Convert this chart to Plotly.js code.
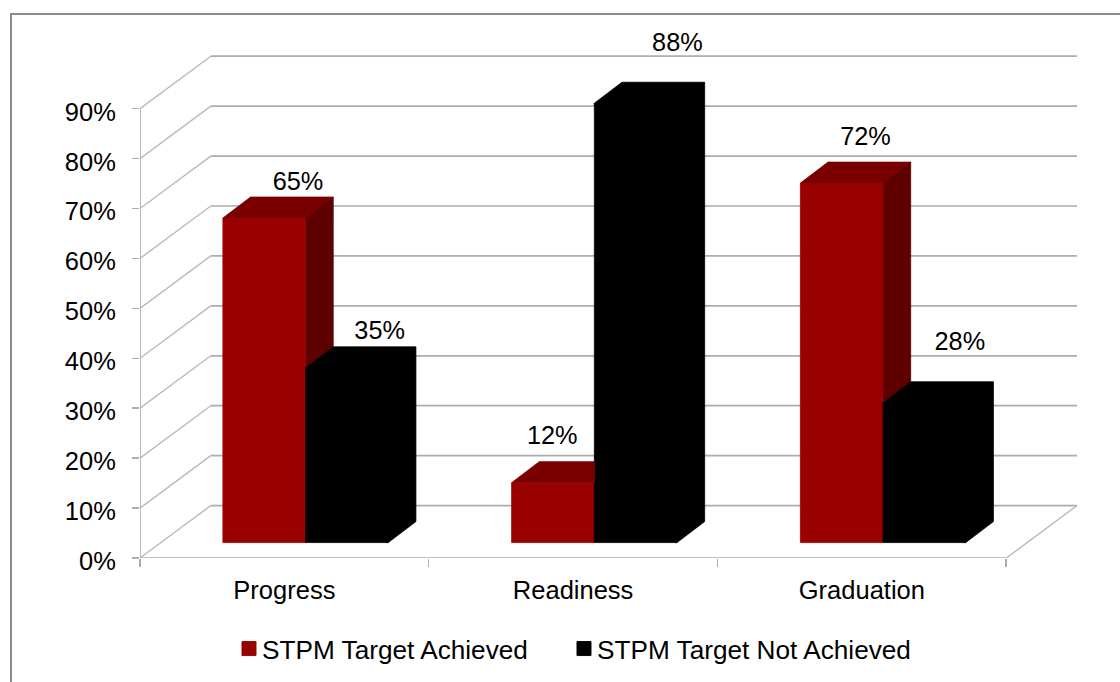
<!DOCTYPE html>
<html>
<head>
<meta charset="utf-8">
<script src="https://cdn.plot.ly/plotly-3.0.1.min.js"></script>
<style>
html,body{margin:0;padding:0;background:#fff;overflow:hidden}
#frame{position:absolute;left:10px;top:13px;width:1110px;height:669px;border-left:2px solid #8c8c8c;border-top:2px solid #8c8c8c;box-sizing:border-box}
#chart{position:absolute;left:0;top:0;width:1120px;height:682px}
</style>
</head>
<body>
<div id="frame"></div>
<div id="chart"></div>
<script>
// ---- data ----
const categories = ["Progress", "Readiness", "Graduation"];
const seriesNames = ["STPM Target Achieved", "STPM Target Not Achieved"];
const achieved = [65, 12, 72];
const notAchieved = [35, 88, 28];
const axisTicks = [0, 10, 20, 30, 40, 50, 60, 70, 80, 90];
const axisTickLabels = ["0%", "10%", "20%", "30%", "40%", "50%", "60%", "70%", "80%", "90%"];

// ---- look ----
const FONT = "Liberation Sans, Arial, sans-serif";
const RED = "#990000", RED_TOP = "#7a0000", RED_SIDE = "#5e0000", BLACK = "#000000";
const GRID = "#adadad", DIAG = "#b9b9b9";
const PX_X = 288.4, PX_Y = 4.99;          // pixels per category / per percent
const wallDX = 70.7 / PX_X, wallDY = 52.4 / PX_Y;
const barDX = 27.6 / PX_X, barDY = 21 / PX_Y;
const barW = 82.6 / PX_X, barStart = 82.8 / PX_X, floor = 15.4 / PX_Y;
const overlapX = 2 / PX_X, overlapY = 2 / PX_Y;
// hand-placed data label offsets, px from the bar's front top-left corner
const labelOffsets = [[[75, -34.8], [74, -34.8]], [[40.6, -44.8], [83, -58.5]], [[65, -44.5], [76.7, -59.1]]];

const traces = [];
const seriesVals = [achieved, notAchieved];
const barColors = [RED, BLACK];

seriesNames.forEach((name, s) => {
  traces.push({
    type: "bar", name: name,
    x: categories.map((_, i) => i + barStart + barW * (s + 0.5)),
    y: seriesVals[s], base: floor, width: barW,
    marker: {color: barColors[s], line: {width: 0.8, color: barColors[s]}},
    hoverinfo: "skip"
  });
});

function poly(xs, ys, color) {
  traces.push({type: "scatter", mode: "lines", x: xs, y: ys, fill: "toself", fillcolor: color,
    line: {width: 0.8, color: color}, showlegend: false, hoverinfo: "skip"});
}
categories.forEach((_, i) => {
  const a = seriesVals[0][i] + floor, b = seriesVals[1][i] + floor;
  const L0 = i + barStart, R0 = L0 + barW, L1 = R0, R1 = L1 + barW;
  // achieved: top face, and the part of the side face not hidden by the neighbour
  if (b >= a) {
    poly([L0, L0 + barDX, R0, R0], [a, a + barDY, a + barDY, a], RED_TOP);
  } else {
    poly([L0, L0 + barDX, R0 + barDX, R0], [a, a + barDY, a + barDY, a], RED_TOP);
    poly([R0, R0 + barDX, R0 + barDX, R0], [a, a + barDY, b + barDY, b], RED_SIDE);
  }
  // not achieved: top and side faces share one colour, so one outline covers both
  poly([L1, L1, L1 + barDX, R1 + barDX, R1 + barDX, R1, R1 - overlapX, R1 - overlapX],
       [b - overlapY, b, b + barDY, b + barDY, floor + barDY, floor, floor, b - overlapY], BLACK);
});

const lx = [], ly = [], lt = [];
categories.forEach((_, i) => {
  seriesNames.forEach((_, s) => {
    const val = seriesVals[s][i];
    lx.push(i + barStart + barW * s + labelOffsets[i][s][0] / PX_X);
    ly.push(val + floor - labelOffsets[i][s][1] / PX_Y);
    lt.push(val + "%");
  });
});
traces.push({type: "scatter", mode: "text", x: lx, y: ly, text: lt, textposition: "middle center",
  textfont: {family: FONT, size: 25.3, color: "#000"}, cliponaxis: false, showlegend: false, hoverinfo: "skip"});

// ---- walls ----
const shapes = [];
function seg(x0, y0, x1, y1, color, w) {
  shapes.push({type: "line", xref: "x", yref: "y", layer: "below", x0, y0, x1, y1, line: {color, width: w}});
}
const nCat = categories.length;
axisTicks.forEach(t => {
  seg(0, t, wallDX, t + wallDY, DIAG, 1.4);
  seg(wallDX, t + wallDY, nCat + wallDX, t + wallDY, GRID, 1.7);
});
seg(0, 0, nCat, 0, GRID, 1.7);
seg(nCat, 0, nCat + wallDX, wallDY, DIAG, 1.4);
seg(0, 0, 0, axisTicks[axisTicks.length - 1], GRID, 1.7);

const layout = {
  width: 1120, height: 682,
  margin: {l: 140, r: 43.3, t: 20, b: 124.3, pad: 0},
  paper_bgcolor: "rgba(0,0,0,0)", plot_bgcolor: "rgba(0,0,0,0)",
  barmode: "overlay",
  showlegend: true,
  legend: {orientation: "h", xref: "container", yref: "container", x: 222 / 1120, xanchor: "left", y: (682 - 649) / 682, yanchor: "middle",
    font: {family: FONT, size: 26.2, color: "#000"}, entrywidth: 290, entrywidthmode: "pixels",
    traceorder: "normal", bgcolor: "rgba(0,0,0,0)", borderwidth: 0, itemclick: false, itemdoubleclick: false},
  xaxis: {
    type: "linear", range: [0, nCat + wallDX], showgrid: false, zeroline: false, showline: false,
    tickmode: "array", tickvals: categories.map((_, i) => i + 0.5), ticktext: categories,
    ticks: "", tickfont: {family: FONT, size: 25.5, color: "#000"}, ticklabelstandoff: 14,
    minor: {tickmode: "array", tickvals: [0, 1, 2, 3], ticks: "outside", ticklen: 8, tickwidth: 1.5, tickcolor: GRID, showgrid: false}
  },
  yaxis: {
    range: [0, (557.7 - 20) / PX_Y], showgrid: false, zeroline: false, showline: false,
    tickmode: "array", tickvals: axisTicks, ticktext: axisTickLabels,
    ticks: "outside", ticklen: 7, tickwidth: 1.5, tickcolor: GRID,
    tickfont: {family: FONT, size: 25.5, color: "#000"}, ticklabelshift: 3, ticklabelstandoff: 11
  },
  shapes: shapes
};

Plotly.newPlot("chart", traces, layout, {displayModeBar: false, staticPlot: true}).then(gd => {
  // Office-style legend keys: 14px squares sitting right next to their text
  gd.querySelectorAll(".legend .traces .legendsymbols path").forEach(p => {
    if ((p.getAttribute("d") || "").indexOf("M6,6") === 0) {
      p.setAttribute("transform", "translate(27,0) scale(1.17)");
    }
  });
  // the last entry is wider than the fixed entry pitch: let it overflow
  gd.querySelectorAll(".legend .scrollbox").forEach(g => g.removeAttribute("clip-path"));
  gd.querySelectorAll(".legend .traces").forEach(g => g.removeAttribute("clip-path"));
});
</script>
</body>
</html>
